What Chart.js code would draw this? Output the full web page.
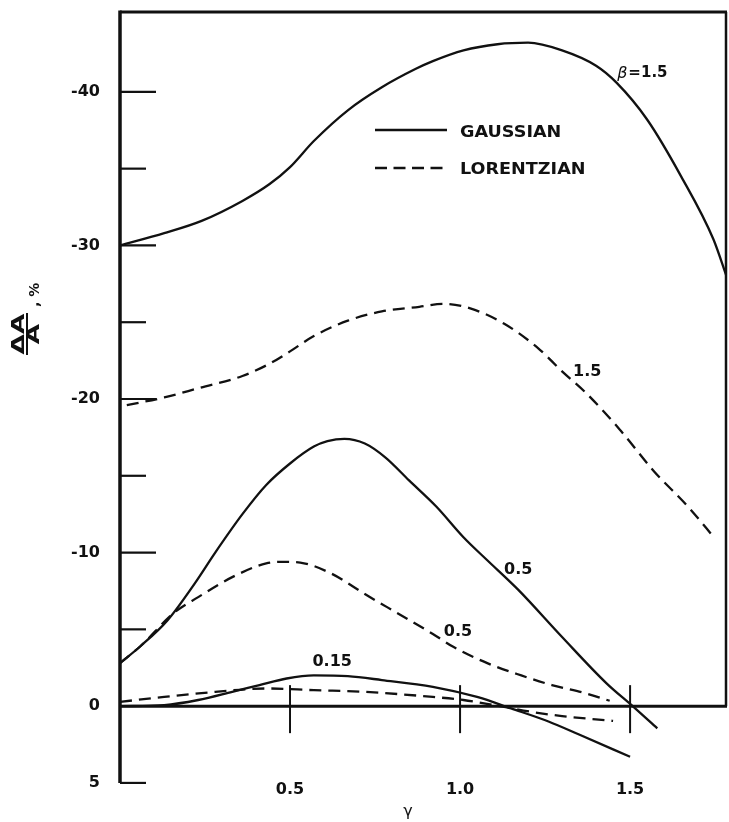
<!DOCTYPE html>
<html>
<head>
<meta charset="utf-8">
<script src="https://cdn.jsdelivr.net/npm/chart.js@4.4.0/dist/chart.umd.min.js"></script>
<style>
  html, body { margin: 0; padding: 0; background: #fff; }
  #wrap { width: 729px; height: 822px; position: relative; }
</style>
</head>
<body>
<div id="wrap"><canvas id="chart"></canvas></div>
<script>
// gamma values and dA/A (%), one pair of arrays per curve
const gauss15X = [0, 0.13, 0.24, 0.36, 0.44, 0.5, 0.57, 0.67, 0.77, 0.87, 0.92, 1.01, 1.11, 1.2, 1.3, 1.4, 1.46, 1.55, 1.65, 1.745, 1.785];
const gauss15Y = [-30.0, -30.8, -31.6, -32.9, -34.0, -35.1, -36.8, -38.8, -40.3, -41.5, -42.0, -42.7, -43.1, -43.2, -42.7, -41.7, -40.6, -38.2, -34.5, -30.4, -27.9];

const lor15X = [0.02, 0.13, 0.23, 0.36, 0.44, 0.5, 0.57, 0.67, 0.77, 0.88, 0.95, 1.03, 1.13, 1.23, 1.3, 1.37, 1.47, 1.57, 1.67, 1.75];
const lor15Y = [-19.6, -20.1, -20.7, -21.5, -22.3, -23.1, -24.1, -25.1, -25.7, -26.0, -26.2, -25.9, -24.9, -23.3, -21.8, -20.4, -18.0, -15.3, -13.0, -10.9];

const gauss05X = [0, 0.06, 0.14, 0.22, 0.28, 0.36, 0.43, 0.5, 0.57, 0.61, 0.66, 0.72, 0.78, 0.85, 0.93, 1.01, 1.08, 1.17, 1.3, 1.43, 1.51, 1.58];
const gauss05Y = [-2.8, -3.9, -5.6, -8.0, -10.0, -12.5, -14.4, -15.8, -16.9, -17.25, -17.4, -17.1, -16.2, -14.7, -13.0, -11.0, -9.5, -7.6, -4.5, -1.5, 0.05, 1.45];

const lor05X = [0, 0.06, 0.16, 0.23, 0.33, 0.43, 0.48, 0.53, 0.62, 0.72, 0.82, 0.92, 0.98, 1.08, 1.18, 1.27, 1.37, 1.44];
const lor05Y = [-2.8, -3.9, -6.1, -7.1, -8.4, -9.3, -9.4, -9.35, -8.65, -7.3, -6.0, -4.7, -3.86, -2.8, -2.0, -1.37, -0.83, -0.35];

const gauss015X = [0, 0.13, 0.23, 0.33, 0.41, 0.49, 0.57, 0.67, 0.77, 0.92, 1.05, 1.15, 1.26, 1.35, 1.5];
const gauss015Y = [0, -0.07, -0.4, -0.93, -1.37, -1.8, -2.0, -1.95, -1.7, -1.26, -0.6, 0.15, 1.0, 1.85, 3.3];

const lor015X = [0, 0.13, 0.28, 0.43, 0.57, 0.72, 0.92, 1.01, 1.1, 1.21, 1.3, 1.45];
const lor015Y = [-0.28, -0.6, -0.93, -1.15, -1.04, -0.93, -0.6, -0.4, -0.07, 0.37, 0.65, 0.96];

// axis ticks
const xTickValues = [0.5, 1.0, 1.5];
const yLabelValues = [-40, -30, -20, -10, 0, 5];
const yMajorTicks = [-40, -30, -20, -10];
const yMinorTicks = [-35, -25, -15, -5, 5];

// curve labels (text, gamma, dA/A)
const curveLabelText = ['1.5', '0.5', '0.5', '0.15'];
const curveLabelX = [1.374, 1.171, 0.994, 0.624];
const curveLabelY = [-21.8, -8.9, -4.86, -2.87];

const INK = '#111';
const FONT = '"DejaVu Sans", sans-serif';
const DASH = [12, 7];

function pts(xs, ys) {
  return xs.map((x, i) => ({ x: x, y: ys[i] }));
}

function curve(label, xs, ys, dashed) {
  return {
    label: label,
    data: pts(xs, ys),
    borderColor: INK,
    borderWidth: 2.3,
    borderDash: dashed ? DASH : [],
    pointRadius: 0,
    cubicInterpolationMode: 'monotone',
    fill: false
  };
}

const framePlugin = {
  id: 'frame',
  beforeDatasetsDraw(chart) {
    const ctx = chart.ctx;
    const a = chart.chartArea;
    const xs = chart.scales.x;
    const ys = chart.scales.y;
    const y0 = ys.getPixelForValue(0);
    ctx.save();
    ctx.strokeStyle = INK;
    ctx.lineCap = 'butt';

    // left axis
    ctx.lineWidth = 3.5;
    ctx.beginPath();
    ctx.moveTo(a.left, a.top - 1.5);
    ctx.lineTo(a.left, ys.getPixelForValue(5));
    ctx.stroke();

    // top border
    ctx.lineWidth = 3;
    ctx.beginPath();
    ctx.moveTo(a.left, a.top);
    ctx.lineTo(a.right, a.top);
    ctx.stroke();

    // right border down to zero line
    ctx.lineWidth = 2.5;
    ctx.beginPath();
    ctx.moveTo(a.right - 1, a.top);
    ctx.lineTo(a.right - 1, y0);
    ctx.stroke();

    // zero line
    ctx.lineWidth = 3;
    ctx.beginPath();
    ctx.moveTo(a.left, y0);
    ctx.lineTo(a.right, y0);
    ctx.stroke();

    // y ticks, drawn inward
    ctx.lineWidth = 2.2;
    yMajorTicks.forEach(v => {
      const py = ys.getPixelForValue(v);
      ctx.beginPath();
      ctx.moveTo(a.left, py);
      ctx.lineTo(a.left + 36, py);
      ctx.stroke();
    });
    yMinorTicks.forEach(v => {
      const py = ys.getPixelForValue(v);
      ctx.beginPath();
      ctx.moveTo(a.left, py);
      ctx.lineTo(a.left + 26, py);
      ctx.stroke();
    });

    // x ticks crossing the zero line
    ctx.lineWidth = 2;
    xTickValues.forEach(v => {
      const px = xs.getPixelForValue(v);
      ctx.beginPath();
      ctx.moveTo(px, y0 - 21);
      ctx.lineTo(px, y0 + 27);
      ctx.stroke();
    });
    ctx.restore();
  },
  afterDraw(chart) {
    const ctx = chart.ctx;
    const xs = chart.scales.x;
    const ys = chart.scales.y;
    ctx.save();
    ctx.fillStyle = INK;
    ctx.strokeStyle = INK;

    // x tick labels
    ctx.font = 'bold 16px ' + FONT;
    ctx.textAlign = 'center';
    ctx.textBaseline = 'middle';
    xTickValues.forEach(v => {
      ctx.fillText(v.toFixed(1), xs.getPixelForValue(v), 790);
    });

    // x title
    ctx.font = '16px ' + FONT;
    ctx.fillText('γ', xs.getPixelForValue(0.847), 812);

    // curve labels
    ctx.font = 'bold 16px ' + FONT;
    curveLabelText.forEach((t, i) => {
      ctx.fillText(t, xs.getPixelForValue(curveLabelX[i]), ys.getPixelForValue(curveLabelY[i]));
    });

    // beta label on the top curve
    ctx.textAlign = 'left';
    const bx = xs.getPixelForValue(1.462);
    const by = ys.getPixelForValue(-41.2);
    ctx.font = 'italic 16px ' + FONT;
    ctx.fillText('β', bx, by);
    const bw = ctx.measureText('β').width;
    ctx.font = 'bold 15px ' + FONT;
    ctx.fillText('=1.5', bx + bw + 1, by);

    // legend
    ctx.lineWidth = 2.3;
    ctx.beginPath();
    ctx.moveTo(375, 130);
    ctx.lineTo(447, 130);
    ctx.stroke();
    ctx.setLineDash([12, 6.5]);
    ctx.beginPath();
    ctx.moveTo(375, 168);
    ctx.lineTo(444, 168);
    ctx.stroke();
    ctx.setLineDash([]);
    ctx.font = 'bold 16px ' + FONT;
    ctx.textBaseline = 'middle';
    [['GAUSSIAN', 133], ['LORENTZIAN', 170]].forEach(([t, y]) => {
      ctx.save();
      ctx.translate(460, y);
      ctx.scale(1.1, 1);
      ctx.fillText(t, 0, 0);
      ctx.restore();
    });

    // y axis title: fraction dA/A , %
    ctx.save();
    ctx.translate(26.5, 334);
    ctx.rotate(-Math.PI / 2);
    ctx.textAlign = 'center';
    ctx.textBaseline = 'alphabetic';
    ctx.font = 'bold 17px ' + FONT;
    ctx.save();
    ctx.scale(1.55, 1);
    ctx.fillText('ΔA', 0, -2.5);
    ctx.fillText('A', 0, 12.5);
    ctx.restore();
    ctx.lineWidth = 2;
    ctx.beginPath();
    ctx.moveTo(-21, 0.5);
    ctx.lineTo(21, 0.5);
    ctx.stroke();
    ctx.textAlign = 'left';
    ctx.font = 'bold 14px ' + FONT;
    ctx.fillText(', %', 27, 12);
    ctx.restore();

    ctx.restore();
  }
};

new Chart(document.getElementById('chart'), {
  type: 'line',
  data: {
    datasets: [
      curve('Gaussian 1.5', gauss15X, gauss15Y, false),
      curve('Lorentzian 1.5', lor15X, lor15Y, true),
      curve('Gaussian 0.5', gauss05X, gauss05Y, false),
      curve('Lorentzian 0.5', lor05X, lor05Y, true),
      curve('Gaussian 0.15', gauss015X, gauss015Y, false),
      curve('Lorentzian 0.15', lor015X, lor015Y, true)
    ]
  },
  options: {
    responsive: true,
    maintainAspectRatio: false,
    animation: false,
    layout: { padding: { left: 0, top: 12, right: 2, bottom: 36 } },
    plugins: {
      legend: { display: false },
      tooltip: { enabled: false }
    },
    scales: {
      x: {
        type: 'linear',
        display: false,
        min: 0,
        max: 1.785
      },
      y: {
        type: 'linear',
        reverse: true,
        min: -45.2,
        max: 5.2,
        grid: { display: false, drawTicks: false },
        border: { display: false },
        afterBuildTicks: s => { s.ticks = yLabelValues.map(v => ({ value: v })); },
        afterFit: s => {
          s.width = 120;
          s.paddingTop = 0;
          s.paddingBottom = 0;
        },
        ticks: {
          padding: 20,
          color: INK,
          font: { family: FONT, size: 16, weight: 'bold' },
          callback: v => (v < 0 ? '-' + Math.abs(v) : String(v))
        }
      }
    }
  },
  plugins: [framePlugin]
});
</script>
</body>
</html>
